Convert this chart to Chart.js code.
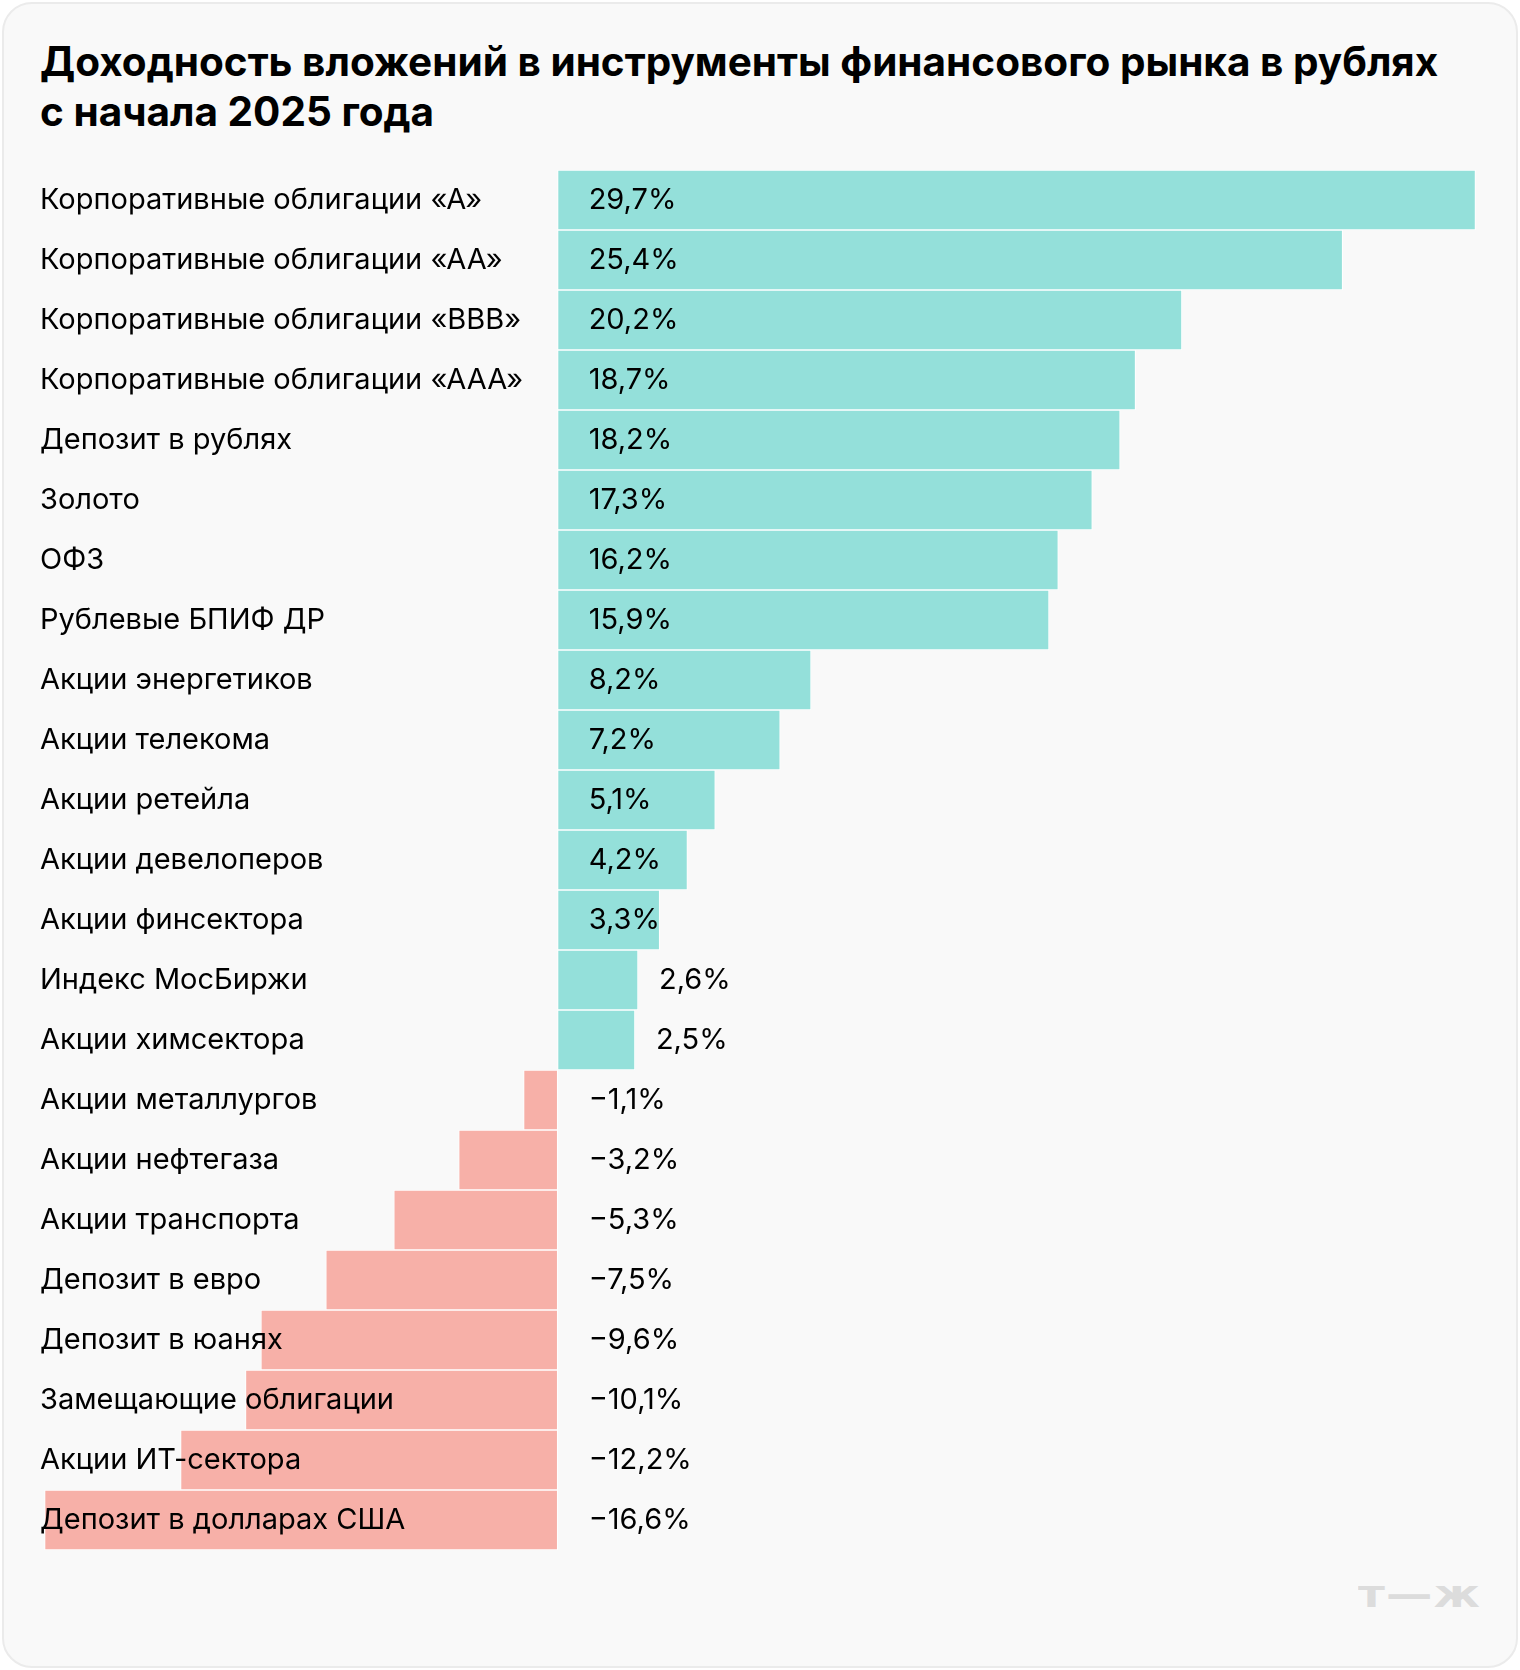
<!DOCTYPE html>
<html lang="ru">
<head>
<meta charset="utf-8">
<script src="https://cdn.jsdelivr.net/npm/chart.js@4.4.1/dist/chart.umd.min.js"></script>
<style>
  html, body { margin: 0; padding: 0; background: #ffffff; }
  body { width: 1520px; height: 1670px; position: relative; overflow: hidden; }
  .card {
    position: absolute; left: 2px; top: 2px; width: 1512px; height: 1662px;
    background: #f9f9f9; border: 2px solid #ebebeb; border-radius: 30px;
  }
  .title {
    position: absolute; left: 40px; top: 37px; margin: 0;
    font-family: Inter, Roboto, sans-serif; font-weight: 700; font-size: 40.5px; line-height: 50px;
    color: #000;
  }
  #chart { position: absolute; left: 0; top: 150px; }
  .logo {
    position: absolute; left: 1358px; top: 1574px;
    font-family: "DejaVu Sans", sans-serif; font-weight: 700; font-size: 38px; line-height: 40px;
    color: #dcdcdc; letter-spacing: 1px;
    transform: scaleX(1.22); transform-origin: left center;
  }
</style>
</head>
<body>
<div class="card"></div>
<h1 class="title">Доходность вложений в инструменты финансового рынка в рублях<br>с начала 2025 года</h1>
<canvas id="chart" width="1520" height="1420"></canvas>
<div class="logo">т—ж</div>
<script>
// Категории и значения, % с начала 2025 года
const categories = [
  'Корпоративные облигации «А»',
  'Корпоративные облигации «АА»',
  'Корпоративные облигации «BBB»',
  'Корпоративные облигации «ААА»',
  'Депозит в рублях',
  'Золото',
  'ОФЗ',
  'Рублевые БПИФ ДР',
  'Акции энергетиков',
  'Акции телекома',
  'Акции ретейла',
  'Акции девелоперов',
  'Акции финсектора',
  'Индекс МосБиржи',
  'Акции химсектора',
  'Акции металлургов',
  'Акции нефтегаза',
  'Акции транспорта',
  'Депозит в евро',
  'Депозит в юанях',
  'Замещающие облигации',
  'Акции ИТ-сектора',
  'Депозит в долларах США'
];
const values = [29.7, 25.4, 20.2, 18.7, 18.2, 17.3, 16.2, 15.9, 8.2, 7.2, 5.1, 4.2, 3.3, 2.6, 2.5,
  -1.1, -3.2, -5.3, -7.5, -9.6, -10.1, -12.2, -16.6];

const POS_COLOR = '#94e0da';
const NEG_COLOR = '#f7b0a8';
const FONT_FAMILY = 'Inter, Roboto, sans-serif';
const FONT_SIZE = 29;

function formatValue(v) {
  const s = Math.abs(v).toFixed(1).replace('.', ',') + '%';
  return v < 0 ? '\u2212' + s : s;
}

// Подписи значений: внутри столбца, если помещается, иначе справа от него
const valueLabels = {
  id: 'valueLabels',
  afterDatasetsDraw(chart) {
    const ctx = chart.ctx;
    const meta = chart.getDatasetMeta(0);
    const zero = chart.scales.x.getPixelForValue(0);
    ctx.save();
    ctx.font = FONT_SIZE + 'px ' + FONT_FAMILY;
    ctx.fillStyle = '#000';
    ctx.textAlign = 'left';
    ctx.textBaseline = 'middle';
    meta.data.forEach((bar, i) => {
      const v = values[i];
      const text = formatValue(v);
      const w = ctx.measureText(text).width;
      let x = zero + 31;
      if (v > 0 && bar.x - zero < w + 20) x = bar.x + 21;
      ctx.fillText(text, x, bar.y);
    });
    ctx.restore();
  }
};

const ctx = document.getElementById('chart');
new Chart(ctx, {
  type: 'bar',
  data: {
    labels: categories,
    datasets: [{
      data: values,
      backgroundColor: values.map(v => v >= 0 ? POS_COLOR : NEG_COLOR),
      borderColor: '#ffffff',
      borderWidth: 1,
      borderSkipped: false,
      barPercentage: 1,
      categoryPercentage: 1
    }]
  },
  options: {
    indexAxis: 'y',
    responsive: false,
    animation: false,
    devicePixelRatio: 1,
    layout: { padding: { left: 32, right: 43, top: 20, bottom: 20 } },
    scales: {
      x: { display: false, min: -16.75, max: 29.75 },
      y: {
        grid: { display: false },
        border: { display: false },
        ticks: {
          z: 1,
          mirror: true,
          padding: 0,
          autoSkip: false,
          color: '#000',
          font: { family: FONT_FAMILY, size: FONT_SIZE }
        }
      }
    },
    plugins: {
      legend: { display: false },
      tooltip: { enabled: false }
    }
  },
  plugins: [valueLabels]
});
</script>
</body>
</html>
